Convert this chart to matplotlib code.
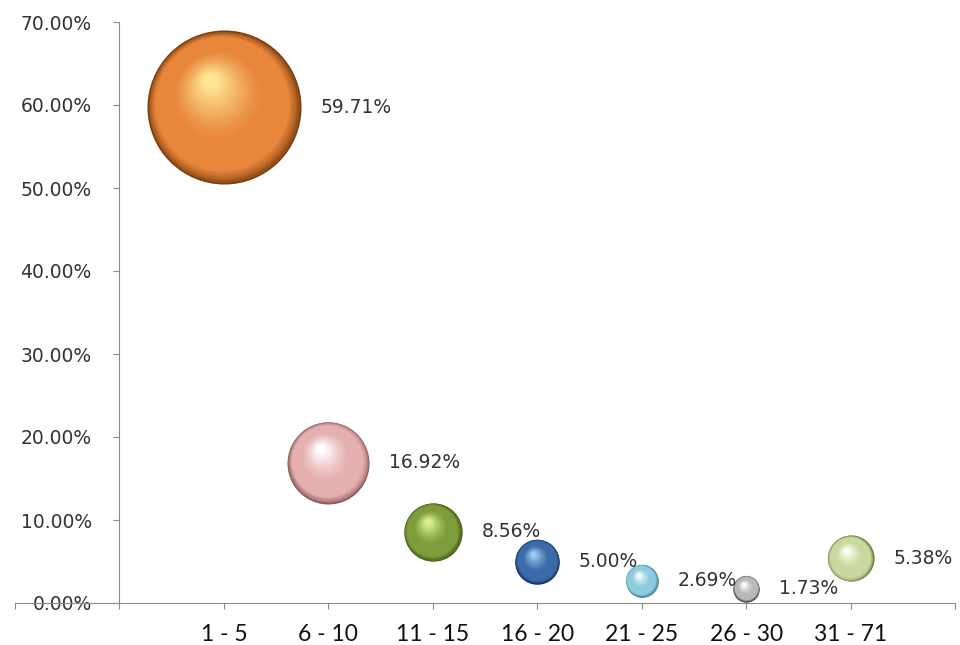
import numpy as np
import matplotlib
matplotlib.use("Agg")
import matplotlib.pyplot as plt
from matplotlib.ticker import PercentFormatter, FixedLocator, FixedFormatter
from matplotlib.colors import to_rgb
import matplotlib.transforms as mtransforms

# share of records per group
groups = ["1 - 5", "6 - 10", "11 - 15", "16 - 20", "21 - 25", "26 - 30", "31 - 71"]
shares = [59.71, 16.92, 8.56, 5.00, 2.69, 1.73, 5.38]

# (rim, body, highlight) colour for every bubble
palettes = [
    ("#7a3c0c", "#e8863c", "#ffe692"),
    ("#8e5a5a", "#e6b0b0", "#ffffff"),
    ("#3e5412", "#7e9c3a", "#dcee98"),
    ("#17335e", "#3b6caa", "#9ccaf0"),
    ("#3e7e90", "#8ccade", "#f2fcff"),
    ("#383838", "#b8b8b8", "#ffffff"),
    ("#728248", "#c8d89e", "#fbfff2"),
]

fig = plt.figure(figsize=(9.6, 6.45), dpi=100)
ax = fig.add_axes([15 / 960, 42 / 645, 940 / 960, 581 / 645])

x = np.arange(1, len(groups) + 1)
y = np.array(shares) / 100.0

max_area = 12300.0  # marker area (pt^2) of the biggest bubble
areas = np.array(shares) / max(shares) * max_area


def shade(rim, body, hi, t):
    rim, body, hi = map(np.array, (to_rgb(rim), to_rgb(body), to_rgb(hi)))
    if t < 0.14:
        return rim + (body - rim) * (t / 0.14) ** 0.7
    if t < 0.45:
        return body
    return body + (hi - body) * ((t - 0.45) / 0.55) ** 1.3


n_layers = 50
for xi, yi, area, (rim, body, hi) in zip(x, y, areas, palettes):
    radius = np.sqrt(area) / 2.0
    for k in range(n_layers):
        t = k / (n_layers - 1)
        r = radius * (1 - 0.9 * t)
        # layers drift toward the upper-left light spot
        dx = -0.18 * radius * t
        dy = 0.34 * radius * t
        tr = mtransforms.offset_copy(ax.transData, fig=fig, x=dx, y=dy, units="points")
        ax.scatter([xi], [yi], s=(2 * r) ** 2, color=shade(rim, body, hi, t),
                   linewidths=0, transform=tr, zorder=3 + k * 0.01)
    ax.annotate(f"{yi * 100:.2f}%", xy=(xi, yi), xytext=(radius + 14, 0),
                textcoords="offset points", ha="left", va="center",
                fontsize=13.5, color="#333333", family="DejaVu Sans", zorder=10)

ax.set_xlim(-1, 8)
ax.set_ylim(0, 0.70)

for side in ("top", "right"):
    ax.spines[side].set_visible(False)
ax.spines["left"].set_position(("data", 0))
ax.spines["left"].set_color("#8c8c8c")
ax.spines["bottom"].set_color("#8c8c8c")

ax.yaxis.set_major_locator(FixedLocator(np.arange(0, 0.71, 0.10)))
ax.yaxis.set_major_formatter(PercentFormatter(xmax=1, decimals=2))
ax.tick_params(axis="y", direction="out", length=4, color="#8c8c8c", pad=16,
               labelsize=13.5, labelcolor="#333333")

ax.xaxis.set_major_locator(FixedLocator(np.arange(-1, 9)))
ax.xaxis.set_major_formatter(FixedFormatter([""] + [""] + groups + [""]))
ax.tick_params(axis="x", direction="out", length=4, color="#8c8c8c", pad=11,
               labelsize=16.5, labelcolor="#111111")
for lbl in ax.get_xticklabels():
    lbl.set_family("Lato")

fig.savefig("out.png", dpi=100)
